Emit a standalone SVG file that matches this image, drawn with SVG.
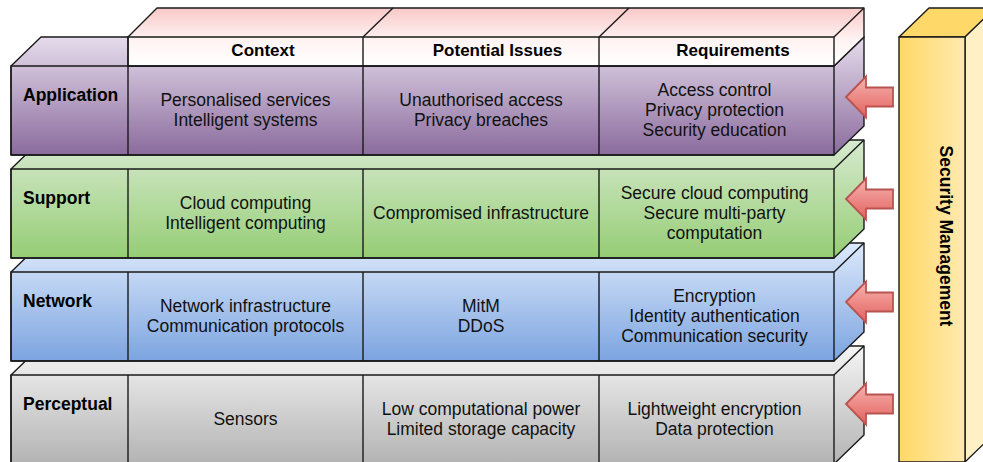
<svg xmlns="http://www.w3.org/2000/svg" width="983" height="462" viewBox="0 0 983 462">
<defs>
<linearGradient id="gHead" x1="0" y1="0" x2="0" y2="1"><stop offset="0" stop-color="#f9c9c8"/><stop offset="0.55" stop-color="#fff3f3"/><stop offset="1" stop-color="#ffffff"/></linearGradient>
<linearGradient id="gApp" x1="0" y1="0" x2="0" y2="1"><stop offset="0" stop-color="#e6dcec"/><stop offset="1" stop-color="#8a6b9d"/></linearGradient>
<linearGradient id="gSup" x1="0" y1="0" x2="0" y2="1"><stop offset="0" stop-color="#d7eacf"/><stop offset="1" stop-color="#95cd75"/></linearGradient>
<linearGradient id="gNet" x1="0" y1="0" x2="0" y2="1"><stop offset="0" stop-color="#dce9fc"/><stop offset="1" stop-color="#7ca4df"/></linearGradient>
<linearGradient id="gPer" x1="0" y1="0" x2="0" y2="1"><stop offset="0" stop-color="#f5f5f5"/><stop offset="1" stop-color="#b3b3b3"/></linearGradient>
<linearGradient id="gSecF" x1="0" y1="0" x2="1" y2="0"><stop offset="0" stop-color="#ffd966"/><stop offset="1" stop-color="#ffe9b0"/></linearGradient>
<linearGradient id="gArrow" x1="0" y1="0" x2="0" y2="1"><stop offset="0" stop-color="#f6b3b0"/><stop offset="1" stop-color="#e3625e"/></linearGradient>
</defs>
<style>
.edge{stroke:#1a1a1a;stroke-width:1.4;stroke-linejoin:round}
.ln{fill:none;stroke:#1a1a1a;stroke-width:1.4;stroke-linejoin:round}
.lbl{font-family:"Liberation Sans",Arial,sans-serif;font-weight:bold;font-size:17.5px;fill:#000}
.hdr{font-family:"Liberation Sans",Arial,sans-serif;font-weight:bold;font-size:17px;fill:#000;text-anchor:middle}
.txt{font-family:"Liberation Sans",Arial,sans-serif;font-size:17.5px;fill:#111;text-anchor:middle}
.arrow{fill:url(#gArrow);stroke:#b85450;stroke-width:1.8;stroke-linejoin:miter}
</style>

<!-- Perceptual layer -->
<g id="perceptual">
<path d="M11,375 L41,346 L864,346 L864,435 L834,464 L11,464 Z" fill="url(#gPer)" class="edge"/>
<rect x="11" y="375" width="823" height="89" class="ln"/>
<path d="M834,375 L864,346 M128,375 V464 M363,375 V464 M599,375 V464" class="ln"/>
<text class="lbl" x="23" y="410">Perceptual</text>
<text class="txt" x="245.5" y="425">Sensors</text>
<text class="txt" x="481" y="415">Low computational power</text>
<text class="txt" x="481" y="435">Limited storage capacity</text>
<text class="txt" x="714.5" y="415">Lightweight encryption</text>
<text class="txt" x="714.5" y="435">Data protection</text>
</g>

<!-- Network layer -->
<g id="network">
<path d="M11,272 L41,243 L864,243 L864,332 L834,361 L11,361 Z" fill="url(#gNet)" class="edge"/>
<rect x="11" y="272" width="823" height="89" class="ln"/>
<path d="M834,272 L864,243 M128,272 V361 M363,272 V361 M599,272 V361" class="ln"/>
<text class="lbl" x="23" y="307">Network</text>
<text class="txt" x="245.5" y="312">Network infrastructure</text>
<text class="txt" x="245.5" y="332">Communication protocols</text>
<text class="txt" x="481" y="312">MitM</text>
<text class="txt" x="481" y="332">DDoS</text>
<text class="txt" x="714.5" y="302">Encryption</text>
<text class="txt" x="714.5" y="322">Identity authentication</text>
<text class="txt" x="714.5" y="342">Communication security</text>
</g>

<!-- Support layer -->
<g id="support">
<path d="M11,169 L41,140 L864,140 L864,229 L834,258 L11,258 Z" fill="url(#gSup)" class="edge"/>
<rect x="11" y="169" width="823" height="89" class="ln"/>
<path d="M834,169 L864,140 M128,169 V258 M363,169 V258 M599,169 V258" class="ln"/>
<text class="lbl" x="23" y="204">Support</text>
<text class="txt" x="245.5" y="209">Cloud computing</text>
<text class="txt" x="245.5" y="229">Intelligent computing</text>
<text class="txt" x="481" y="219">Compromised infrastructure</text>
<text class="txt" x="714.5" y="199">Secure cloud computing</text>
<text class="txt" x="714.5" y="219">Secure multi-party</text>
<text class="txt" x="714.5" y="239">computation</text>
</g>

<!-- Application layer -->
<g id="application">
<path d="M11,66 L41,37 L864,37 L864,126 L834,155 L11,155 Z" fill="url(#gApp)" class="edge"/>
<rect x="11" y="66" width="823" height="89" class="ln"/>
<path d="M834,66 L864,37 M128,66 V155 M363,66 V155 M599,66 V155" class="ln"/>
<text class="lbl" x="23" y="101">Application</text>
<text class="txt" x="245.5" y="106">Personalised services</text>
<text class="txt" x="245.5" y="126">Intelligent systems</text>
<text class="txt" x="481" y="106">Unauthorised access</text>
<text class="txt" x="481" y="126">Privacy breaches</text>
<text class="txt" x="714.5" y="96">Access control</text>
<text class="txt" x="714.5" y="116">Privacy protection</text>
<text class="txt" x="714.5" y="136">Security education</text>
</g>

<!-- Header -->
<g id="header">
<path d="M128,37 L157,8 L864,8 L864,37 L834,66 L128,66 Z" fill="url(#gHead)" class="edge"/>
<rect x="128" y="37" width="706" height="29" class="ln"/>
<path d="M834,37 L864,8 M363,37 L393,8 M599,37 L629,8 M363,37 V66 M599,37 V66" class="ln"/>
<text class="hdr" x="263" y="56">Context</text>
<text class="hdr" x="497.5" y="56">Potential Issues</text>
<text class="hdr" x="733" y="56">Requirements</text>
</g>

<!-- Security Management -->
<g id="security-management">
<path d="M899,37 L929,8 L995,8 L965,37 Z" fill="#ffd86a" class="edge"/>
<path d="M965,37 L995,8 L995,433 L965,462 Z" fill="#fff0c6" class="edge"/>
<rect x="899" y="37" width="66" height="425" fill="url(#gSecF)" class="edge"/>
<text class="lbl" text-anchor="middle" transform="translate(940,236) rotate(90)">Security Management</text>
</g>

<!-- Connectors -->
<g id="connectors">
<path class="arrow" d="M846,97 L866,76.5 L866,87.5 L893,87.5 L893,106.5 L866,106.5 L866,117.5 Z"/>
<path class="arrow" d="M846,199 L866,178.5 L866,189.5 L893,189.5 L893,208.5 L866,208.5 L866,219.5 Z"/>
<path class="arrow" d="M846,302 L866,281.5 L866,292.5 L893,292.5 L893,311.5 L866,311.5 L866,322.5 Z"/>
<path class="arrow" d="M846,404 L866,383.5 L866,394.5 L893,394.5 L893,413.5 L866,413.5 L866,424.5 Z"/>
</g>
</svg>
